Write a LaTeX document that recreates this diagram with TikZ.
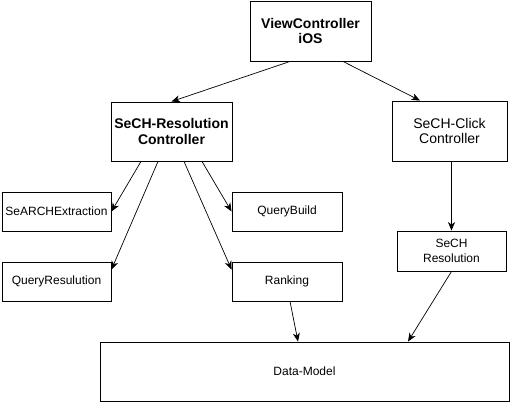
\documentclass[tikz,border=0pt]{standalone}
\usepackage{fontspec}
\setmainfont{Liberation Sans}
\usetikzlibrary{arrows.meta,calc}
\begin{document}
\begin{tikzpicture}[x=1pt,y=-1pt,
 box/.style={draw,line width=0.9pt,inner sep=0pt,align=center,font=\fontsize{12}{14.5}\selectfont},
 big/.style={box,font=\fontsize{14}{15.5}\selectfont},
 bigb/.style={box,font=\fontsize{14}{15.5}\selectfont\bfseries},
 arr/.style={draw,line width=0.7pt,-{Stealth[length=8.5pt,width=7pt,inset=2.5pt]}}]
\useasboundingbox (0,0) rectangle (514,404);
\node[bigb,minimum width=121pt,minimum height=60pt] (vc) at (310.5,31) {ViewController\\iOS};
\node[bigb,minimum width=121pt,minimum height=59pt] (res) at (171.5,131.5) {SeCH-Resolution\\Controller};
\node[big,minimum width=115pt,minimum height=60pt] (click) at (449.5,131) {SeCH-Click\\Controller};
\node[box,minimum width=109pt,minimum height=39pt] (sea) at (56.5,211.5) {SeARCHExtraction};
\node[box,minimum width=110pt,minimum height=39pt] (qb) at (287,211.5) {QueryBuild};
\node[box,minimum width=109pt,minimum height=39pt] (qr) at (56.5,281.5) {QueryResulution};
\node[box,minimum width=110pt,minimum height=39pt] (rank) at (287,281.5) {Ranking};
\node[box,minimum width=109pt,minimum height=40pt] (sr) at (451.5,251) {SeCH\\Resolution};
\node[box,minimum width=409pt,minimum height=59pt] (dm) at (304.5,371.5) {Data-Model};

\draw[arr] ($(vc.south)+(-20.5,0)$) -- (res.north);
\draw[arr] ($(vc.south)+(32.5,0)$) -- ($(click.north)+(-29.5,0)$);
\draw[arr] ($(res.south)+(-30.5,0)$) -- (sea.east);
\draw[arr] ($(res.south)+(-13.5,0)$) -- ($(qr.north east)+(0,8)$);
\draw[arr] ($(res.south)+(12.5,0)$) -- ($(rank.north west)+(0,8)$);
\draw[arr] ($(res.south)+(30.5,0)$) -- (qb.west);
\draw[arr] (click.south -| sr.north) -- (sr.north);
\draw[arr] ($(rank.south)+(3,0)$) -- ($(dm.north)+(-6.5,0)$);
\draw[arr] (sr.south) -- ($(dm.north)+(103.5,0)$);
\end{tikzpicture}
\end{document}
